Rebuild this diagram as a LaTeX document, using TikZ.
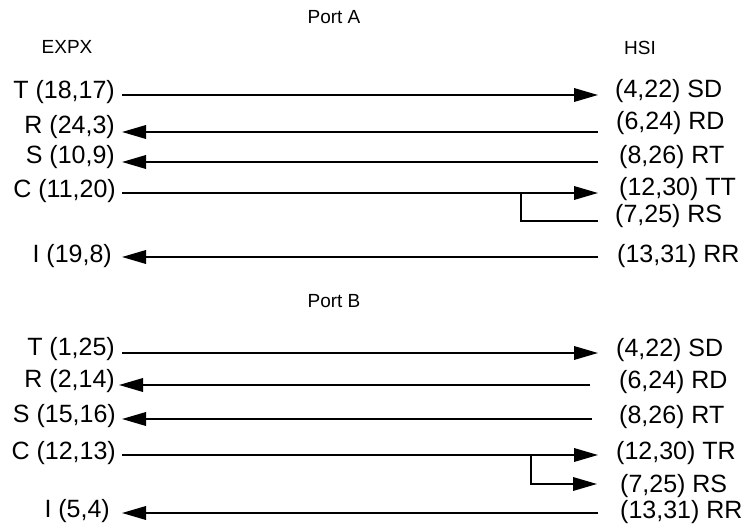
\documentclass[tikz,border=0pt]{standalone}
\usepackage{fontspec}
\setmainfont{Liberation Sans}
\usetikzlibrary{arrows.meta}
\begin{document}
\begin{tikzpicture}[x=1pt,y=-1pt,
  lbl/.style={font=\fontsize{25}{30}\selectfont, inner sep=0pt},
  lleft/.style={lbl, anchor=east},
  lright/.style={lbl, anchor=west},
  hdr/.style={font=\fontsize{19}{23}\selectfont, inner sep=0pt},
  wire/.style={line width=1.9pt},
  arr/.style={wire, -{Triangle[length=24pt,width=13.5pt]}}]
\useasboundingbox (0,0) rectangle (745,529);
% headers
\node[hdr] (portA) at (334,17.5) {Port A};
\node[hdr] (expx) at (67,47) {EXPX};
\node[hdr] (hsi) at (640,48) {HSI};
\node[hdr] (portB) at (334,301) {Port B};
% ---------- Port A ----------
\node[lleft] (aT) at (115,92) {T (18,17)};
\node[lleft] (aR) at (115,127) {R (24,3)};
\node[lleft] (aS) at (115,157) {S (10,9)};
\node[lleft] (aC) at (116,191) {C (11,20)};
\node[lleft] (aI) at (112,256) {I (19,8)};
\node[lright] (aSD) at (615,91) {(4,22) SD};
\node[lright] (aRD) at (616,123) {(6,24) RD};
\node[lright] (aRT) at (619,157) {(8,26) RT};
\node[lright] (aTT) at (619,189) {(12,30) TT};
\node[lright] (aRS) at (615,216) {(7,25) RS};
\node[lright] (aRR) at (617,256) {(13,31) RR};
\coordinate (aT1) at (122,95);  \coordinate (aT2) at (598,95);
\coordinate (aR1) at (122,132); \coordinate (aR2) at (598,132);
\coordinate (aS1) at (122,162); \coordinate (aS2) at (598,162);
\coordinate (aC1) at (122,193); \coordinate (aC2) at (598,193);
\coordinate (aB)  at (521,193); \coordinate (aRS2) at (598,221);
\coordinate (aI1) at (122,257); \coordinate (aI2) at (598,257);
\draw[arr] (aT1) -- (aT2);
\draw[arr] (aR2) -- (aR1);
\draw[arr] (aS2) -- (aS1);
\draw[arr] (aC1) -- (aC2);
\draw[wire] (aB) |- (aRS2);
\draw[arr] (aI2) -- (aI1);
% ---------- Port B ----------
\node[lleft] (bT) at (115,349) {T (1,25)};
\node[lleft] (bR) at (115,381) {R (2,14)};
\node[lleft] (bS) at (116,416) {S (15,16)};
\node[lleft] (bC) at (116,453) {C (12,13)};
\node[lleft] (bI) at (110,511) {I (5,4)};
\node[lright] (bSD) at (616,350) {(4,22) SD};
\node[lright] (bRD) at (619,382) {(6,24) RD};
\node[lright] (bRT) at (619,417) {(8,26) RT};
\node[lright] (bTR) at (616,453) {(12,30) TR};
\node[lright] (bRS) at (620,486) {(7,25) RS};
\node[lright] (bRR) at (620,512) {(13,31) RR};
\coordinate (bT1) at (122,353); \coordinate (bT2) at (598,353);
\coordinate (bR1) at (119,385); \coordinate (bR2) at (590,385);
\coordinate (bS1) at (122,419); \coordinate (bS2) at (592,419);
\coordinate (bC1) at (122,455); \coordinate (bC2) at (598,455);
\coordinate (bB)  at (531,455); \coordinate (bRS2) at (597,484);
\coordinate (bI1) at (122,513); \coordinate (bI2) at (598,513);
\draw[arr] (bT1) -- (bT2);
\draw[arr] (bR2) -- (bR1);
\draw[arr] (bS2) -- (bS1);
\draw[arr] (bC1) -- (bC2);
\draw[arr] (bB) |- (bRS2);
\draw[arr] (bI2) -- (bI1);
\end{tikzpicture}
\end{document}
